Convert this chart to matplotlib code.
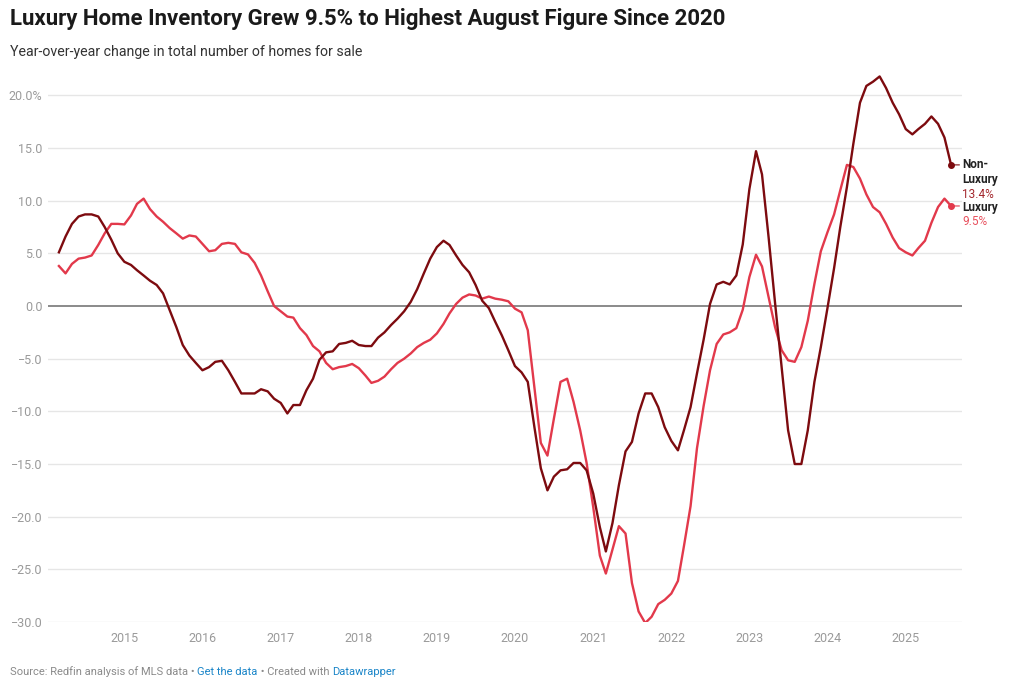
import matplotlib
matplotlib.use('Agg')
import matplotlib.pyplot as plt
import pandas as pd

# monthly YoY change in homes for sale, Mar 2014 .. Aug 2025
months = pd.date_range('2014-03-01', '2025-08-01', freq='MS')

non_luxury = [
    5.1, 6.6, 7.8, 8.5, 8.7, 8.7, 8.5, 7.5, 6.3, 5.0, 4.2, 3.9,
    3.4, 2.9, 2.4, 2.0, 1.2, -0.4, -2.0, -3.7, -4.7, -5.4, -6.1, -5.8,
    -5.3, -5.2, -6.1, -7.2, -8.3, -8.3, -8.3, -7.9, -8.1, -8.8, -9.2, -10.2,
    -9.4, -9.4, -8.0, -6.9, -5.1, -4.4, -4.3, -3.6, -3.5, -3.3, -3.7, -3.8,
    -3.8, -3.0, -2.5, -1.8, -1.2, -0.5, 0.4, 1.6, 3.1, 4.5, 5.6, 6.2,
    5.8, 4.8, 3.9, 3.2, 2.0, 0.5, -0.2, -1.5, -2.8, -4.2, -5.7, -6.3,
    -7.2, -11.5, -15.4, -17.5, -16.2, -15.6, -15.5, -14.9, -14.9, -15.6, -17.8, -21.0,
    -23.3, -20.6, -17.0, -13.8, -12.9, -10.2, -8.3, -8.3, -9.6, -11.5, -12.8, -13.7,
    -11.8, -9.6, -6.4, -3.2, 0.2, 2.05, 2.3, 2.05, 2.9, 5.85, 11.1, 14.7,
    12.5, 6.5, 0.3, -5.8, -11.8, -15.0, -15.0, -11.8, -7.2, -3.9, -0.2, 3.6,
    7.5, 11.3, 15.4, 19.3, 20.9, 21.3, 21.8, 20.7, 19.3, 18.2, 16.8, 16.3,
    16.8, 17.3, 18.0, 17.3, 16.0, 13.4,
]

luxury = [
    3.8, 3.1, 4.0, 4.5, 4.6, 4.8, 5.8, 6.9, 7.8, 7.8, 7.75, 8.6,
    9.7, 10.2, 9.2, 8.5, 8.0, 7.4, 6.9, 6.4, 6.7, 6.6, 5.9, 5.2,
    5.3, 5.9, 6.0, 5.9, 5.1, 4.9, 4.1, 2.9, 1.4, 0.0, -0.5, -1.0,
    -1.1, -2.1, -2.75, -3.8, -4.3, -5.4, -6.0, -5.8, -5.7, -5.5, -5.9, -6.6,
    -7.3, -7.1, -6.7, -6.0, -5.4, -5.0, -4.5, -3.9, -3.5, -3.2, -2.6, -1.7,
    -0.7, 0.2, 0.8, 1.1, 1.0, 0.7, 0.9, 0.7, 0.6, 0.45, -0.25, -0.6,
    -2.3, -7.7, -13.0, -14.2, -10.7, -7.2, -6.9, -9.1, -11.8, -14.9, -19.1, -23.7,
    -25.4, -23.1, -20.9, -21.6, -26.3, -29.0, -30.1, -29.5, -28.3, -27.9, -27.3, -26.1,
    -22.8, -19.0, -13.5, -9.5, -6.1, -3.6, -2.7, -2.5, -2.1, -0.35, 2.75, 4.87,
    3.76, 0.85, -2.0, -4.2, -5.15, -5.3, -3.9, -1.4, 2.1, 5.2, 7.0, 8.7,
    11.0, 13.4, 13.2, 12.1, 10.6, 9.4, 8.9, 7.8, 6.5, 5.5, 5.1, 4.8,
    5.5, 6.2, 7.9, 9.4, 10.2, 9.5,
]

y_ticks = [20, 15, 10, 5, 0, -5, -10, -15, -20, -25, -30]
y_labels = ['20.0%', '15.0', '10.0', '5.0', '0.0', '\u22125.0', '\u221210.0',
            '\u221215.0', '\u221220.0', '\u221225.0', '\u221230.0']
years = list(range(2015, 2026))

nonlux_color = '#7d0b0f'
lux_color = '#e2394b'

plt.rcParams['font.family'] = ['Roboto', 'DejaVu Sans']

fig = plt.figure(figsize=(10.24, 6.9), dpi=100)
ax = fig.add_axes([48 / 1024, 1 - 622 / 690, (962 - 48) / 1024, (622 - 68) / 690])

for v in y_ticks:
    if v == 0:
        ax.axhline(v, color='#8a8a8a', lw=1.4, zorder=1)
    else:
        ax.axhline(v, color='#e6e6e6', lw=1.0, zorder=0)

ax.plot(months, luxury, color=lux_color, lw=1.7, zorder=3, solid_joinstyle='round')
ax.plot(months, non_luxury, color=nonlux_color, lw=1.7, zorder=4, solid_joinstyle='round')
ax.plot(months[-1], non_luxury[-1], 'o', color=nonlux_color, ms=4, zorder=5)
ax.plot(months[-1], luxury[-1], 'o', color=lux_color, ms=4, zorder=5)

ax.set_xlim(months[0] - pd.Timedelta(days=51), months[-1] + pd.Timedelta(days=51))
ax.set_ylim(-30, 22.6)

ax.set_yticks(y_ticks)
ax.set_yticklabels(y_labels)
ax.set_xticks([pd.Timestamp(f'{y}-01-01') for y in years])
ax.set_xticklabels([str(y) for y in years])
ax.tick_params(axis='y', length=0, pad=4, labelsize=9, labelcolor='#9a9a9a')
ax.tick_params(axis='x', length=0, pad=7, labelsize=9, labelcolor='#9a9a9a')
for s in ax.spines.values():
    s.set_visible(False)

# end labels
def end_label(yval, lines, color, dy=0.0):
    for i, (txt, bold, c) in enumerate(lines):
        ax.annotate(txt, xy=(months[-1], yval), xytext=(8, dy - i * 10.5), textcoords='offset points',
                    ha='left', va='center', fontsize=8.5, color=c,
                    fontweight='bold' if bold else 'normal', annotation_clip=False)
    ax.annotate('', xy=(months[-1], yval), xytext=(6, 0), textcoords='offset points',
                arrowprops=dict(arrowstyle='-', color=color, lw=0.8, shrinkA=0, shrinkB=2),
                annotation_clip=False)

end_label(non_luxury[-1], [('Non-', True, '#222222'), ('Luxury', True, '#222222'),
                           ('13.4%', False, '#a3262c')], nonlux_color)
end_label(luxury[-1], [('Luxury', True, '#222222'), ('9.5%', False, '#e8505d')], lux_color, dy=-1)

fig.text(10 / 1024, 1 - 19 / 690, 'Luxury Home Inventory Grew 9.5% to Highest August Figure Since 2020',
         fontsize=16, fontweight='bold', color='#1a1a1a', ha='left', va='center')
fig.text(10 / 1024, 1 - 52 / 690, 'Year-over-year change in total number of homes for sale',
         fontsize=10.2, color='#333333', ha='left', va='center')

# footer with coloured links
pieces = [('Source: Redfin analysis of MLS data \u2022 ', '#8a8a8a'),
          ('Get the data', '#1a85c8'),
          (' \u2022 Created with ', '#8a8a8a'),
          ('Datawrapper', '#1a85c8')]
renderer = fig.canvas.get_renderer()
xpos = 10
for txt, c in pieces:
    t = fig.text(xpos / 1024, 1 - 672 / 690, txt, fontsize=8, color=c, ha='left', va='center')
    xpos += t.get_window_extent(renderer=renderer).width

fig.savefig('out.png', dpi=100)
